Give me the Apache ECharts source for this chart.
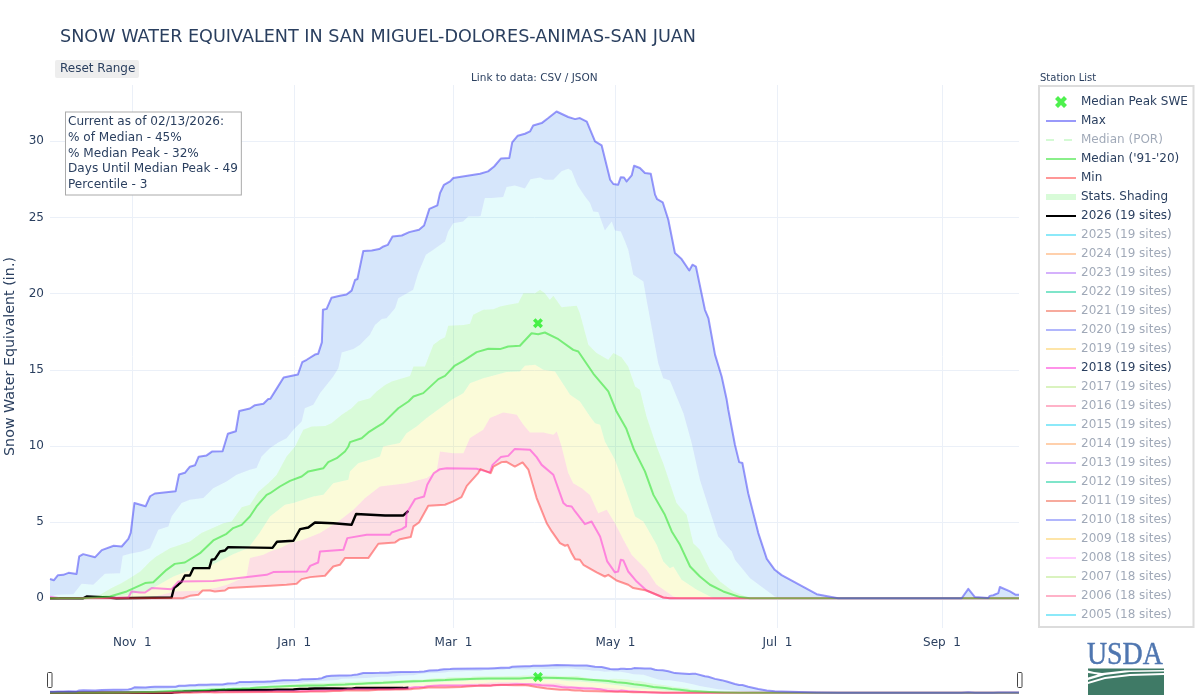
<!DOCTYPE html>
<html>
<head>
<meta charset="utf-8">
<title>Snow Water Equivalent</title>
<script src="https://cdn.jsdelivr.net/npm/echarts@6/dist/echarts.min.js"></script>
<style>
  html, body { margin: 0; padding: 0; background: #fff; }
  #chart { width: 1200px; height: 700px; }
</style>
</head>
<body>
<div id="chart"></div>
<script>
// x is days since Oct 1, y is inches of SWE
const tickDays = [31, 92, 152, 213, 274, 336];
const tickLabels = ['Nov  1', 'Jan  1', 'Mar  1', 'May  1', 'Jul  1', 'Sep  1'];
const yTicks = [0, 5, 10, 15, 20, 25, 30];

const maxLine = [[0,1.27],[1.5,1.19],[3,1.52],[5,1.54],[7,1.67],[10,1.6],[11,2.75],[12.5,2.9],[17,2.7],[19.5,3.16],[24,3.45],[27,3.4],[29.5,3.9],[30.4,4.3],[31.8,6.26],[36,6.04],[37.7,6.7],[39.5,6.88],[47.3,7.03],[48.6,8.13],[50.8,8.24],[52.7,8.64],[54.6,8.73],[56,9.3],[59,9.38],[61,9.63],[65,9.65],[67,10.8],[70,10.97],[71.3,12.3],[75.3,12.46],[77.2,12.68],[80.4,12.77],[82.2,13.08],[83,13.1],[85.5,13.8],[88,14.5],[93.4,14.7],[95,15.5],[96.7,15.66],[99.8,16],[101,16.05],[102.4,16.8],[102.8,18.94],[104.2,19],[106,19.73],[109.2,19.86],[111.7,19.95],[113.6,20.2],[114.9,20.9],[115.8,20.96],[118,22.8],[121.2,22.84],[124,22.93],[125.6,23.1],[127.2,23.2],[129,23.76],[132.5,23.82],[135.3,24.04],[139,24.2],[140.9,24.48],[142.9,25.57],[145.9,25.8],[146.9,26.6],[148.4,27.15],[150.7,27.37],[151.9,27.59],[162,27.87],[165,28.03],[167.3,28.35],[169.9,28.88],[173,28.9],[174.1,29.93],[176.2,30.37],[178.9,30.5],[180.8,30.65],[182,31.04],[185.2,31.2],[187.7,31.53],[190.8,31.96],[195.2,31.6],[197.8,31.46],[199.6,31.53],[202.2,31.3],[205.3,30],[207.8,29.73],[211,27.48],[212.2,27.2],[214,27.15],[215,27.65],[216.2,27.63],[217.2,27.37],[219.1,27.76],[220,28.4],[222.2,28.25],[224.1,27.92],[226.3,27.87],[227.9,26.5],[228.7,26.2],[230.8,26],[232.9,24.85],[235.4,22.67],[237.9,22.27],[240.8,21.52],[242,21.9],[243.3,21.78],[246.7,18.94],[248,18.4],[250.5,16],[253,14.56],[254.9,13.03],[255.5,12.38],[258,10.08],[259.6,8.94],[260.8,8.88],[263,6.9],[266.8,4.28],[270,2.59],[273,1.87],[275.6,1.52],[288.8,0.27],[296.9,0.01],[343.4,0],[345.9,0.62],[348.4,0.08],[353.4,0.02],[354,0.16],[355.3,0.2],[355.9,0.31],[357.2,0.34],[357.8,0.74],[361.6,0.45],[363.8,0.23],[365,0.23]];

const p90Edge = [[0,0.1],[2.5,0.23],[8.8,0.27],[11.9,0.95],[16.3,0.89],[20.7,1.61],[26.4,1.65],[27.4,2.79],[30.1,2.92],[34.5,3.07],[37.7,3.29],[40.8,4.5],[44.6,4.72],[45.8,5.37],[49.6,6.25],[52.7,6.47],[57.8,6.58],[61.5,7.23],[66.5,7.67],[70.3,8.11],[75.3,8.44],[77.8,8.55],[79.7,9.31],[82.9,9.86],[86,10.23],[89.1,10.5],[91.7,11.06],[94.8,11.6],[96,12.48],[99.2,12.7],[101.7,13.47],[106.7,14.56],[108.6,15.1],[109.9,16.14],[114.3,16.36],[116.8,16.64],[120.5,17.3],[122.4,17.95],[125,18.33],[126.8,18.39],[130,19.05],[131.2,19.7],[135,20.08],[136.8,20.26],[138.7,21.35],[141.6,22.55],[144.4,22.88],[148.8,23.43],[150,24.08],[151.9,24.63],[155.6,24.74],[157.6,25.07],[161.3,25.07],[162.2,25.1],[163.8,26.28],[166.4,26.28],[170.7,26.34],[172,27],[175.1,27.1],[178.9,26.9],[181,27.52],[184.6,27.63],[186.4,27.48],[189.6,27.48],[192.7,28.03],[195.2,28.2],[196.5,28.07],[198.6,27.15],[201.5,26.38],[203.4,25.95],[204.6,25.4],[206.5,25.36],[209,24.15],[211.6,24.74],[212.8,24.15],[215,24.08],[216.6,23.43],[217.8,22.88],[219.7,21.24],[223.5,20.8],[224.7,19.6],[229.1,15.44],[231,14.45],[233.5,14.3],[236,13.25],[238.6,12.15],[241.7,10.19],[244.8,7.78],[248,6.03],[251.7,4.06],[256.8,3.07],[258,2.53],[263.7,1.32],[273,0.11],[275,0],[365,0]];

const p70Edge = [[12.5,0],[18.8,0.23],[23.2,0.67],[27,1],[30,1.32],[34,1.76],[37.7,2.42],[40,2.75],[45.2,3.29],[52.7,3.73],[57,4.28],[65.3,4.93],[68.4,5.05],[72.2,5.98],[75.3,6.14],[78.5,7],[82.2,7.56],[85.4,8.11],[89.1,9.31],[92.3,9.97],[95.4,11.06],[98.6,11.28],[103.6,11.32],[106,11.5],[109.9,12.05],[113.6,12.48],[116.1,12.92],[120.5,13.14],[123,13.58],[126.2,14.01],[128.7,14.23],[135.6,14.6],[136.9,15.22],[141.2,15.22],[144.4,16.64],[146.9,16.97],[148.8,17.14],[150,17.89],[155.7,17.95],[158.2,18.02],[159.4,18.61],[163.2,18.94],[167,18.98],[169.5,19.16],[172.6,19.27],[176.4,19.38],[178.3,20.03],[182.7,20.03],[184.6,20.25],[186.4,20.03],[188.3,19.6],[189.6,19.86],[192.7,19.11],[195.2,19.16],[198.4,19.2],[199.6,18.72],[202.8,16.64],[205.9,16.1],[210.3,15.66],[212.2,16.1],[215.3,15.83],[217.8,15.22],[220.4,13.9],[222.2,13.69],[224.7,11.94],[228.5,9.97],[231,8.87],[236,6.25],[239.8,5.48],[242.3,3.62],[244.8,3.18],[248.6,1.87],[252.4,1.1],[257.4,0.45],[263.7,0]];

const p30Edge = [[20.7,0],[30,0.23],[37.7,0.56],[46.5,1.43],[51.5,1.76],[60,2.1],[69,2.9],[74.7,3.3],[79,4.3],[82.9,5.37],[88.5,6.14],[91.7,6.25],[99.2,6.69],[103,6.8],[106.7,7.56],[112.4,7.78],[113,8.33],[116.1,8.87],[120.5,9.09],[124.3,9.31],[125.5,9.97],[131.8,10.19],[134.3,10.84],[138.1,11.28],[141.9,11.83],[146.9,12.48],[151.3,13.03],[155.7,13.47],[158.2,14.12],[163.2,14.45],[168.2,14.67],[172,14.85],[177,14.89],[178.9,15.26],[182.7,15.33],[185.8,15],[190.2,14.89],[195.9,13.36],[199.6,12.92],[203.4,11.94],[205.3,11.5],[207.2,11.39],[209,10.3],[212.8,9.09],[216,7.56],[220.4,5.37],[223.5,5.04],[228.5,3.51],[231,2.42],[233.5,1.98],[234.8,2.09],[237.9,1.21],[243.6,0.56],[249.9,0]];

const p10Edge = [[37,0],[47,0.45],[56,0.5],[62.7,0.7],[67,0.9],[74,1.43],[75.3,2.64],[80.4,2.86],[82.9,3.07],[86.6,3.29],[90.4,3.62],[95.4,3.84],[101.7,4.28],[108.6,5.04],[114.3,5.81],[118.6,6.57],[124.3,7.34],[134.3,7.56],[141.9,7.89],[145.6,8.32],[146.9,9.64],[151.9,9.53],[155.7,9.53],[158.2,10.52],[163.2,11.06],[165.7,11.83],[170.7,12.2],[172.6,12.15],[175.8,12.05],[178.3,11.39],[180.8,10.89],[185.8,10.89],[189.6,10.73],[190.9,10.95],[192.7,9.97],[195.2,8.22],[197.1,7.56],[200.3,7.23],[203.4,6.79],[206.5,5.59],[209.7,5.81],[212.8,4.93],[216,3.84],[219.1,2.86],[224.7,1.87],[228.5,0.89],[234.8,0.12],[237.3,0]];

const minLine = [[0,0],[50,0],[52.7,0.16],[55.9,0.23],[57.5,0.51],[60.3,0.51],[62.1,0.45],[65.9,0.51],[67.2,0.67],[82.9,0.82],[89.1,0.89],[92.9,0.95],[94.8,1.26],[98,1.39],[103.6,1.48],[106.7,2.09],[109.2,2.2],[111.1,2.64],[119.9,2.64],[123.7,3.58],[130,3.67],[131.8,3.88],[135.9,4.02],[136.9,4.72],[139,4.98],[142.5,6.07],[148.8,6.14],[151.9,6.36],[155,6.64],[157,7.38],[161.3,8.22],[162.2,8.48],[166,8.22],[167,8.65],[170.1,8.94],[171.8,8.97],[175.1,8.65],[178,8.92],[180.2,8.44],[183.3,6.58],[187.1,4.93],[189,4.39],[192.1,3.62],[194,3.45],[195,3.51],[196.5,2.96],[197.8,2.57],[199.6,2.53],[200.9,2.2],[205.9,1.7],[209,1.43],[210.3,1.54],[213.4,1.17],[217.8,0.89],[219.7,0.67],[224.7,0.51],[231,0.05],[233.5,0],[365,0]];

const medianLine = [[0,0],[12.5,0],[22.6,0.12],[28.9,0.45],[35.8,1],[38.9,1.06],[43.9,1.87],[47,2.26],[50.8,2.35],[56.5,2.96],[61.5,3.8],[66.5,4.23],[69,4.61],[72.2,4.82],[75.3,5.37],[77.8,6.03],[81.6,6.79],[82.9,6.9],[86.6,7.34],[90.4,7.71],[94.8,8],[97.3,8.33],[103,8.54],[104.8,8.94],[108,9.2],[111.1,9.64],[112.4,9.97],[113,10.25],[117.4,10.51],[119.9,10.89],[123,11.24],[125.5,11.5],[131.2,12.48],[135,12.92],[136.9,13.25],[140.6,13.47],[146.3,14.39],[148.8,14.6],[152.5,15.28],[155.7,15.59],[160.7,16.16],[165.1,16.38],[169.5,16.36],[172.6,16.53],[177,16.58],[181.4,17.4],[183.9,17.34],[186.4,17.45],[191.5,17.01],[197.1,16.31],[199,16.2],[204.7,14.74],[210.3,13.58],[213.4,12.26],[217,11.17],[220,9.75],[224.1,8.33],[227.3,6.79],[231.6,5.48],[234.2,4.39],[237.3,3.51],[241.1,2.09],[244.8,1.43],[248.6,0.89],[253.6,0.45],[259.9,0.08],[263.7,0],[365,0]];

const line2018 = [[0,0.1],[3.8,0],[29.5,0.05],[30.7,0.45],[33.9,0.38],[35.8,0.38],[38.3,0.67],[45.8,0.6],[48.3,1.1],[61.5,1.13],[81.6,1.54],[84.1,1.72],[96.7,1.76],[98,2.13],[101,2.35],[101.7,3.07],[110.5,3.18],[112,3.95],[119.3,4.17],[128.1,4.17],[128.7,4.32],[132.5,4.54],[134.1,4.72],[134.3,5.59],[137.5,6.51],[140.9,6.68],[142.1,7.45],[144.6,8.22],[146.9,8.48],[149.4,8.54],[160.7,8.5],[162.2,8.43],[165.7,8.26],[166.7,8.76],[169.8,9.27],[172.6,9.35],[175.1,9.81],[180.8,9.75],[183.3,9.27],[185.2,8.76],[189.6,8.11],[193.4,6.25],[194.6,6.07],[196.5,6.03],[197.8,5.7],[201.5,4.87],[204,5.04],[207.2,4.06],[209.9,2.42],[212.8,1.7],[214,1.76],[215,2.53],[216,2.48],[217.8,1.76],[221,1.1],[224.7,0.51],[231,0.05],[233.5,0],[365,0]];

const line2026 = [[0,0],[12.5,0],[13.8,0.12],[22,0.05],[25,0],[45.8,0.05],[46.7,0.67],[48.3,0.89],[49.6,1.1],[50.8,1.5],[52.7,1.5],[54,1.98],[60,1.98],[60.9,2.53],[62.1,2.57],[64,3.07],[65.9,3.14],[67.1,3.36],[83.8,3.31],[85.5,3.71],[91.7,3.78],[94.2,4.54],[97.3,4.65],[99.8,4.98],[106.7,4.93],[113.6,4.83],[115.3,5.53],[126.2,5.44],[133.1,5.44],[135,5.74]];

const medianPeak = [[183.8, 18.06]];

const hiddenYears = ['2025 (19 sites)', '2024 (19 sites)', '2023 (19 sites)', '2022 (19 sites)', '2021 (19 sites)', '2020 (19 sites)', '2019 (19 sites)'];
const hiddenYears2 = ['2017 (19 sites)', '2016 (19 sites)', '2015 (19 sites)', '2014 (19 sites)', '2013 (19 sites)', '2012 (19 sites)', '2011 (19 sites)', '2010 (18 sites)', '2009 (18 sites)', '2008 (18 sites)', '2007 (18 sites)', '2006 (18 sites)', '2005 (18 sites)'];
const hiddenColors = ['#19d3f3', '#FFA15A', '#ab63fa', '#00cc96', '#EF553B', '#636efa', '#FECB52'];
const hiddenColors2 = ['#B6E880', '#FF6692', '#19d3f3', '#FFA15A', '#ab63fa', '#00cc96', '#EF553B', '#636efa', '#FECB52', '#FF97FF', '#B6E880', '#FF6692', '#19d3f3'];

const annotation = [
  'Current as of 02/13/2026:',
  '% of Median - 45%',
  '% Median Peak - 32%',
  'Days Until Median Peak - 49',
  'Percentile - 3'
];

const FONT = '"DejaVu Sans", Verdana, sans-serif';
const INK = '#2a3f5f';
const FADED = 'rgba(42,63,95,0.45)';
const GRID = '#ebf0f8';
const X_SHAPE = 'path://M2.5 0L5 2.5L7.5 0L10 2.5L7.5 5L10 7.5L7.5 10L5 7.5L2.5 10L0 7.5L2.5 5L0 2.5Z';

function band(name, upper, lower, color, xi) {
  // one polygon between two edges
  const pts = upper.concat(lower.slice().reverse());
  return {
    type: 'custom',
    name: name,
    xAxisIndex: xi,
    yAxisIndex: xi,
    data: pts,
    clip: true,
    silent: true,
    renderItem: function (params, api) {
      if (params.dataIndex !== 0) return null;
      return {
        type: 'polygon',
        shape: { points: pts.map(function (p) { return api.coord(p); }) },
        style: { fill: color }
      };
    }
  };
}

function line(name, data, color, xi, width) {
  return {
    type: 'line',
    name: name,
    data: data,
    xAxisIndex: xi,
    yAxisIndex: xi,
    symbol: 'none',
    silent: true,
    lineStyle: { color: color, width: width || 2, join: 'round' },
    itemStyle: { color: color }
  };
}

function layers(xi) {
  return [
    band('Stats. Shading', maxLine, p90Edge, 'rgba(0,100,230,0.16)', xi),
    band('Stats. Shading', p90Edge, p70Edge, 'rgba(0,220,230,0.10)', xi),
    band('Stats. Shading', p70Edge, p30Edge, 'rgba(0,230,0,0.15)', xi),
    band('Stats. Shading', p30Edge, p10Edge, 'rgba(230,230,0,0.15)', xi),
    band('Stats. Shading', p10Edge, minLine, 'rgba(241,28,62,0.14)', xi),
    line('2026 (19 sites)', line2026, '#000000', xi, 2.4),
    line('2018 (19 sites)', line2018, 'rgba(255,60,215,0.56)', xi),
    line('Min', minLine, 'rgba(255,70,70,0.56)', xi),
    line("Median ('91-'20)", medianLine, 'rgba(30,225,30,0.52)', xi),
    line('Max', maxLine, 'rgba(70,70,245,0.55)', xi),
    {
      type: 'scatter',
      name: 'Median Peak SWE',
      data: medianPeak,
      xAxisIndex: xi,
      yAxisIndex: xi,
      symbol: X_SHAPE,
      symbolSize: 10,
      silent: true,
      itemStyle: { color: '#22ee22' }
    }
  ];
}

// legend only entries, they have no data
function legendOnly() {
  const out = [];
  const por = line('Median (POR)', [], 'rgba(40,230,40,0.2)', 0);
  por.lineStyle.type = [8, 10];
  out.push(por);
  hiddenYears.forEach(function (n, i) {
    out.push(line(n, [], hiddenColors[i] + '80', 0));
  });
  hiddenYears2.forEach(function (n, i) {
    out.push(line(n, [], hiddenColors2[i] + '80', 0));
  });
  return out;
}

const shadingKey = line('Stats. Shading', [], '#d8fbd8', 0);
shadingKey.markLine = {
  silent: true,
  z: 1,
  symbol: 'none',
  label: { show: false },
  lineStyle: { color: GRID, width: 2, type: 'solid' },
  data: [{ yAxis: 0 }]
};

const legendNames = ['Median Peak SWE', 'Max', 'Median (POR)', "Median ('91-'20)", 'Min', 'Stats. Shading', '2026 (19 sites)']
  .concat(hiddenYears, ['2018 (19 sites)'], hiddenYears2);
const dimmed = ['Median (POR)'].concat(hiddenYears, hiddenYears2);

const legendData = legendNames.map(function (n) {
  const item = { name: n, textStyle: { color: dimmed.indexOf(n) >= 0 ? FADED : INK } };
  if (n === 'Stats. Shading') item.lineStyle = { width: 6 };
  if (n !== 'Median Peak SWE') item.itemStyle = { opacity: 0 }; // hide the dot, keep the line
  return item;
});

const chart = echarts.init(document.getElementById('chart'), null, { renderer: 'canvas' });

const logoGreen = '#3f7a66';

chart.setOption({
  animation: false,
  backgroundColor: '#fff',
  textStyle: { fontFamily: FONT },
  title: {
    text: 'SNOW WATER EQUIVALENT IN SAN MIGUEL-DOLORES-ANIMAS-SAN JUAN',
    left: 60,
    top: 28,
    padding: 0,
    textStyle: { fontFamily: FONT, fontSize: 17.6, fontWeight: 'normal', color: INK }
  },
  legend: {
    orient: 'vertical',
    left: 1043,
    top: 96,
    padding: 0,
    itemWidth: 30,
    itemHeight: 12,
    itemGap: 7,
    textStyle: { fontFamily: FONT, fontSize: 12, color: INK },
    data: legendData
  },
  grid: [
    { left: 50, right: 181, top: 85, height: 543, outerBoundsMode: 'none' },
    { left: 50, right: 181, top: 663.5, height: 31, outerBoundsMode: 'none' }
  ],
  xAxis: [
    {
      type: 'value',
      min: 0,
      max: 365,
      axisLine: { show: false },
      axisTick: { show: false, customValues: tickDays },
      axisLabel: {
        customValues: tickDays,
        margin: 9,
        color: INK,
        fontSize: 12,
        fontFamily: FONT,
        formatter: function (v) { return tickLabels[tickDays.indexOf(v)]; }
      },
      splitLine: { show: true, lineStyle: { color: GRID, width: 1 } }
    },
    { type: 'value', gridIndex: 1, min: 0, max: 365, show: false }
  ],
  yAxis: [
    {
      type: 'value',
      min: -1.95,
      max: 33.7,
      name: 'Snow Water Equivalent (in.)',
      nameLocation: 'middle',
      nameGap: 33,
      nameTextStyle: { color: INK, fontSize: 14.3, fontFamily: FONT },
      axisLine: { show: false },
      axisTick: { show: false, customValues: yTicks },
      axisLabel: { customValues: yTicks, margin: 6, padding: [6, 0, 0, 0], color: INK, fontSize: 12, fontFamily: FONT },
      splitLine: { show: true, lineStyle: { color: GRID, width: 1 } }
    },
    { type: 'value', gridIndex: 1, min: -1.95, max: 33.7, show: false }
  ],
  series: [shadingKey].concat(layers(0), layers(1), legendOnly()),
  graphic: [
    // legend frame
    { type: 'rect', shape: { x: 1039, y: 86, width: 154.5, height: 541 }, silent: true, z: -1, style: { fill: '#fff', stroke: '#dcdcdc', lineWidth: 2 } },
    { type: 'text', x: 1040, y: 73, style: { text: 'Station List', font: '10px ' + FONT, fill: INK } },
    { type: 'text', x: 471, y: 73, style: { text: 'Link to data: CSV / JSON', font: '10.5px ' + FONT, fill: INK } },
    // reset button
    { type: 'rect', shape: { x: 55, y: 60, width: 84, height: 18, r: 2 }, style: { fill: '#eeeeee' } },
    { type: 'text', x: 60, y: 63, style: { text: 'Reset Range', font: '12px ' + FONT, fill: INK } },
    // status box
    {
      type: 'text',
      x: 66,
      y: 112.5,
      z: 20,
      style: {
        text: annotation.join('\n'),
        font: '12.1px ' + FONT,
        lineHeight: 15.6,
        fill: INK,
        backgroundColor: '#fff',
        borderColor: '#aaaaaa',
        borderWidth: 1,
        padding: [2, 3, 2, 2]
      }
    },
    // range slider handles
    { type: 'rect', shape: { x: 47.5, y: 672.5, width: 4.5, height: 15, r: 1 }, z: 20, style: { fill: '#fff', stroke: '#444', lineWidth: 1 } },
    { type: 'rect', shape: { x: 1017.5, y: 672.5, width: 4.5, height: 15, r: 1 }, z: 20, style: { fill: '#fff', stroke: '#444', lineWidth: 1 } },
    // USDA logo
    { type: 'text', x: 1087, y: 640, scaleX: 0.87, style: { text: 'USDA', font: '32px "Liberation Serif", serif', fill: '#4f76b0', stroke: '#4f76b0', lineWidth: 0.5 } },
    { type: 'polygon', shape: { points: [[1088,668.5],[1164,668.5],[1164,670],[1125,670.5],[1102,673],[1094,672],[1088,670.5]] }, style: { fill: logoGreen } },
    { type: 'polygon', shape: { points: [[1088,673],[1098,674.5],[1088,677.5]] }, style: { fill: logoGreen } },
    { type: 'polygon', shape: { points: [[1088,680],[1105,675],[1130,672],[1164,671.5],[1164,673],[1130,674],[1105,677],[1088,682]] }, style: { fill: logoGreen } },
    { type: 'polygon', shape: { points: [[1088,684],[1105,679],[1130,676],[1164,675],[1164,695],[1088,695]] }, style: { fill: logoGreen } }
  ]
});
</script>
</body>
</html>
